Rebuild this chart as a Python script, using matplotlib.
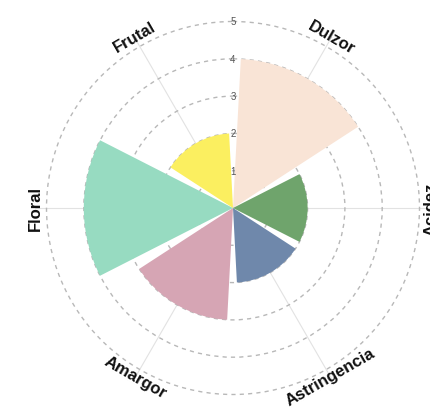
import numpy as np
import matplotlib
matplotlib.use("Agg")
import matplotlib.pyplot as plt

plt.rcParams['font.family'] = ['Liberation Sans', 'DejaVu Sans']

# data
categories = ['Dulzor', 'Acidez', 'Astringencia', 'Amargor', 'Floral', 'Frutal']
values = [4, 2, 2, 3, 4, 2]
colors = ['#f9e4d6', '#6fa46c', '#6f88ab', '#d6a5b4', '#97dbc1', '#fbef60']
rticks = [1, 2, 3, 4, 5]

n = len(categories)
step = 2 * np.pi / n
theta = np.arange(n) * step + step / 2

fig = plt.figure(figsize=(4.31, 4.10), dpi=100)
# center of the polar plot sits at about (233, 209) px, 37.3 px per unit
rmax = 5.3
rad = rmax * 37.3
ax = fig.add_axes([(233 - rad) / 431, (201 - rad) / 410, 2 * rad / 431, 2 * rad / 410],
                  projection='polar')
ax.set_theta_zero_location('N')
ax.set_theta_direction(-1)
ax.set_ylim(0, rmax)

# bars take 90% of their slot, like ggplot's default width
ax.bar(theta, values, width=step * 0.9, color=colors, edgecolor='none', zorder=3)

# grid: dashed rings, light solid spokes
ax.set_yticks(rticks)
ax.set_yticklabels([])
ax.yaxis.grid(True, color='#b8b8b8', linestyle=(0, (3, 3)), linewidth=1)
ax.set_xticks(theta)
ax.set_xticklabels([])
ax.xaxis.grid(True, color='#e2e2e2', linestyle='-', linewidth=0.8)
ax.spines['polar'].set_visible(False)
ax.tick_params(length=0)
ax.set_axisbelow(True)

# spokes stop at the outer ring
for line in ax.xaxis.get_gridlines():
    line.set_data(line.get_xdata(), [0, 5])

# radial tick labels along the top
for r in rticks:
    ax.text(0, r, str(r), ha='center', va='center', fontsize=7, color='#555555', zorder=5)

# category labels, rotated along the circle
for t, lab in zip(theta, categories):
    rot = -np.degrees(t)
    while rot <= -90:
        rot += 180
    while rot > 90:
        rot -= 180
    # bottom labels sit a touch closer in
    rl = 5.22 if np.cos(t) < -0.5 else 5.3
    ax.text(t, rl, lab, rotation=rot, rotation_mode='anchor',
            ha='center', va='center', fontsize=12, fontweight='bold',
            color='#111111', clip_on=False)

fig.savefig('out.png', dpi=100)
